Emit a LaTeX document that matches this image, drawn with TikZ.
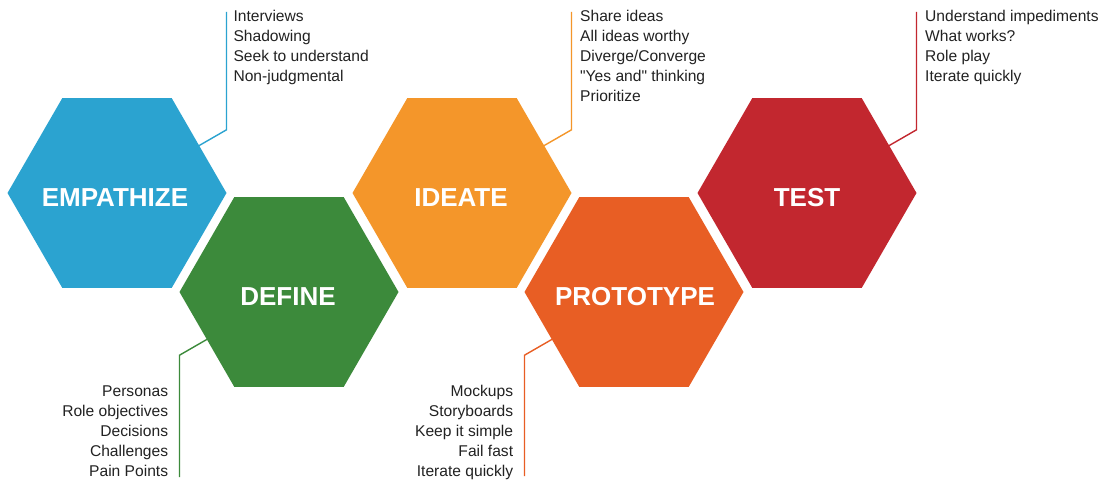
\documentclass[tikz,border=0pt]{standalone}
\usepackage{fontspec}
\setmainfont{Liberation Sans}
\usetikzlibrary{shapes.geometric}
\definecolor{cE}{HTML}{2BA3D0}
\definecolor{cD}{HTML}{3C8A3B}
\definecolor{cI}{HTML}{F4962A}
\definecolor{cP}{HTML}{E85E24}
\definecolor{cT}{HTML}{C2272F}
\definecolor{txt}{HTML}{222222}
\begin{document}
\begin{tikzpicture}[x=1pt,y=-1pt,
  hexa/.style={regular polygon, regular polygon sides=6, minimum size=219pt, inner sep=0pt, outer sep=0pt, fill=#1},
  ttl/.style={text=white, font=\bfseries\fontsize{26}{30}\selectfont, inner sep=0pt},
  item/.style={text=txt, font=\fontsize{15.6}{20}\selectfont, inner sep=0pt},
  lead/.style={draw=#1, line width=1.4pt}]
\useasboundingbox[fill=white] (0,0) rectangle (1111,484);
% hexagons
\node[hexa=cE] (E) at (117,193) {};
\node[hexa=cD] (D) at (289,292) {};
\node[hexa=cI] (I) at (462,193) {};
\node[hexa=cP] (P) at (634,292) {};
\node[hexa=cT] (T) at (807,193) {};
% titles
\node[ttl] (tE) at (115,197.5) {EMPATHIZE};
\node[ttl] (tD) at (288,296.5) {DEFINE};
\node[ttl] (tI) at (461,197.5) {IDEATE};
\node[ttl] (tP) at (635,296.5) {PROTOTYPE};
\node[ttl] (tT) at (807,197.5) {TEST};
% leader coordinates
\coordinate (Ek) at (226.5,129.8);
\coordinate (Et) at (226.5,12);
\coordinate (Dk) at (179.5,355.2);
\coordinate (Db) at (179.5,477);
\coordinate (Ik) at (571.5,129.8);
\coordinate (It) at (571.5,12);
\coordinate (Pk) at (524.5,355.2);
\coordinate (Pb) at (524.5,476);
\coordinate (Tk) at (916.5,129.8);
\coordinate (Tt) at (916.5,12);
\draw[lead=cE] (E.30) -- (Ek) -- (Et);
\draw[lead=cD] (D.210) -- (Dk) -- (Db);
\draw[lead=cI] (I.30) -- (Ik) -- (It);
\draw[lead=cP] (P.210) -- (Pk) -- (Pb);
\draw[lead=cT] (T.30) -- (Tk) -- (Tt);
% item lists
\foreach \t [count=\i from 0] in {Interviews,Shadowing,Seek to understand,Non-judgmental}
  \node[item,anchor=base west] (e\i) at (233.3,{21.7+20*\i}) {\t};
\foreach \t [count=\i from 0] in {Personas,Role objectives,Decisions,Challenges,Pain Points}
  \node[item,anchor=base east] (d\i) at (168.3,{396.7+20*\i}) {\t};
\foreach \t [count=\i from 0] in {Share ideas,All ideas worthy,Diverge/Converge,{\textquotedbl Yes and\textquotedbl{} thinking},Prioritize}
  \node[item,anchor=base west] (i\i) at (580,{21.7+20*\i}) {\t};
\foreach \t [count=\i from 0] in {Mockups,Storyboards,Keep it simple,Fail fast,Iterate quickly}
  \node[item,anchor=base east] (p\i) at (513.3,{396.7+20*\i}) {\t};
\foreach \t [count=\i from 0] in {Understand impediments,What works?,Role play,Iterate quickly}
  \node[item,anchor=base west] (t\i) at (925,{21.7+20*\i}) {\t};
\end{tikzpicture}
\end{document}
